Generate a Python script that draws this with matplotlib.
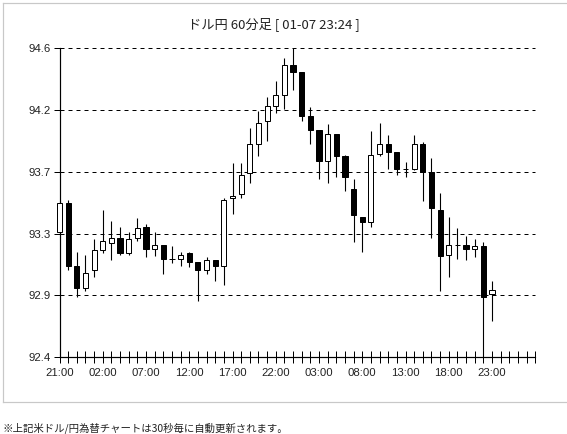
import matplotlib
matplotlib.use('Agg')
import matplotlib.pyplot as plt
from matplotlib.lines import Line2D
import numpy as np

# hourly candles, 21:00 onwards
opens = [93.29, 93.50, 93.05, 92.89, 93.02, 93.16, 93.21, 93.25, 93.14, 93.25,
         93.33, 93.17, 93.20, 93.10, 93.10, 93.14, 93.08, 93.02, 93.09, 93.05,
         93.53, 93.56, 93.71, 93.92, 94.08, 94.19, 94.27, 94.48, 94.43, 94.12,
         94.02, 93.80, 93.99, 93.83, 93.60, 93.40, 93.36, 93.85, 93.92, 93.86,
         93.74, 93.74, 93.92, 93.72, 93.45, 93.13, 93.20, 93.20, 93.17, 93.19,
         92.85]
highs = [93.51, 93.52, 93.15, 93.13, 93.24, 93.45, 93.37, 93.33, 93.29, 93.39,
         93.35, 93.29, 93.20, 93.19, 93.15, 93.15, 93.08, 93.11, 93.09, 93.53,
         93.78, 93.78, 94.03, 94.15, 94.25, 94.37, 94.53, 94.60, 94.43, 94.18,
         94.02, 94.06, 93.99, 93.84, 93.67, 93.40, 94.01, 94.07, 93.98, 93.86,
         93.79, 93.98, 93.93, 93.82, 93.57, 93.40, 93.32, 93.26, 93.24, 93.22,
         92.94]
lows = [93.28, 93.02, 92.83, 92.87, 92.97, 93.14, 93.09, 93.13, 93.13, 93.23,
        93.11, 93.12, 92.99, 93.07, 93.05, 93.04, 92.80, 92.99, 92.94, 92.91,
        93.42, 93.53, 93.64, 93.83, 93.94, 94.14, 94.17, 94.30, 94.08, 93.92,
        93.67, 93.64, 93.68, 93.58, 93.22, 93.15, 93.33, 93.83, 93.74, 93.70,
        93.68, 93.73, 93.51, 93.25, 92.87, 92.97, 93.10, 93.09, 93.11, 92.40,
        92.66]
closes = [93.50, 93.05, 92.89, 93.00, 93.16, 93.23, 93.25, 93.14, 93.24, 93.32,
          93.17, 93.20, 93.10, 93.10, 93.13, 93.08, 93.02, 93.09, 93.05, 93.52,
          93.55, 93.70, 93.92, 94.07, 94.19, 94.27, 94.48, 94.43, 94.12, 94.02,
          93.80, 93.99, 93.83, 93.68, 93.41, 93.36, 93.84, 93.92, 93.86, 93.74,
          93.74, 93.92, 93.72, 93.46, 93.12, 93.20, 93.20, 93.17, 93.19, 92.83,
          92.88]

hour_labels = ['21:00', '02:00', '07:00', '12:00', '17:00', '22:00',
               '03:00', '08:00', '13:00', '18:00', '23:00']
price_labels = ['92.4', '92.9', '93.3', '93.7', '94.2', '94.6']

title = 'ドル円 60分足 [ 01-07 23:24 ]'
note = '※上記米ドル/円為替チャートは30秒毎に自動更新されます。'

W, H = 567, 434
fig = plt.figure(figsize=(W / 100, H / 100), dpi=100)
ax = fig.add_axes([59.5 / W, 77 / H, 475.75 / W, 308.7 / H])

px = 0.72  # one pixel in points
n = len(opens)
x = np.arange(n)
o = np.array(opens)
c = np.array(closes)
up = c >= o

# wicks first, bodies on top
ax.vlines(x, lows, highs, color='black', linewidth=px * 1.1, zorder=2, clip_on=False)
ax.bar(x, np.abs(c - o), bottom=np.minimum(o, c), width=0.6,
       color=np.where(up, 'white', 'black'), edgecolor='black',
       linewidth=px, zorder=3, clip_on=False)

ylo, yhi = 92.4, 94.6
yticks = np.linspace(ylo, yhi, len(price_labels))
for yv in yticks[1:]:
    ax.axhline(yv, color='black', linewidth=px, linestyle=(0, (4, 4)),
               zorder=1, clip_on=False)

ax.set_xlim(0, 55)
ax.set_ylim(ylo, yhi)

ax.set_xticks(np.arange(0, 56), minor=True)
ax.set_xticks(np.arange(0, n, 5))
ax.set_xticklabels(hour_labels)
ax.set_yticks(yticks)
ax.set_yticklabels(price_labels)

for s in ['top', 'right']:
    ax.spines[s].set_visible(False)
for s in ['left', 'bottom']:
    ax.spines[s].set_linewidth(px * 1.2)

ax.tick_params(axis='x', which='both', direction='inout', length=8, width=px, pad=4)
ax.tick_params(axis='y', direction='out', length=4.5, width=px, pad=2)
for lab in ax.get_xticklabels() + ax.get_yticklabels():
    lab.set_fontfamily('Liberation Sans')
    lab.set_fontsize(8.2)
    lab.set_color('#222222')

fig.text(274 / W, 1 - 24 / H, title, ha='center', va='center', fontsize=9.5,
         family=['Noto Sans CJK JP', 'DejaVu Sans'], color='#222222')
fig.text(3 / W, 1 - 428 / H, note, ha='left', va='center', fontsize=7.5,
         family=['Noto Sans CJK JP', 'DejaVu Sans'], color='#222222')

# light grey frame around the chart
frame = dict(color='#c8c8c8', linewidth=px * 1.2, transform=fig.transFigure)
fig.add_artist(Line2D([2.5 / W, 1], [1 - 2.5 / H, 1 - 2.5 / H], **frame))
fig.add_artist(Line2D([2.5 / W, 2.5 / W], [1 - 2.5 / H, 1 - 402 / H], **frame))
fig.add_artist(Line2D([2.5 / W, 1], [1 - 402 / H, 1 - 402 / H], **frame))

fig.savefig('out.png', dpi=100)
